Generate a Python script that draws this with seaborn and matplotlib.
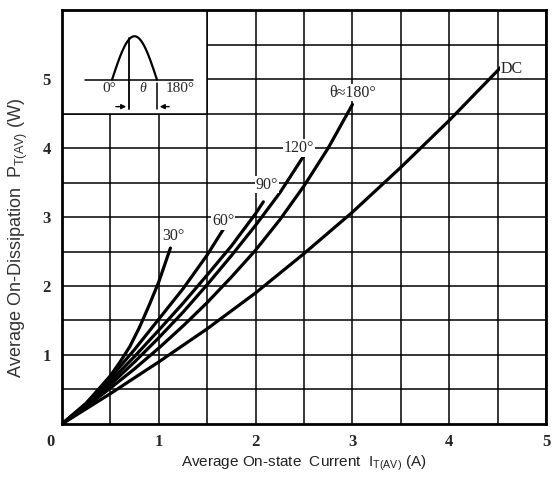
import numpy as np
import pandas as pd
import matplotlib
matplotlib.use('Agg')
import matplotlib.pyplot as plt
import matplotlib.transforms as mtransforms
from matplotlib.patches import Rectangle
import seaborn as sns

# curves (current in A, dissipation in W)
x_30 = [0, 0.25, 0.5, 0.6, 0.7, 0.8, 0.9, 1.0, 1.12]
y_30 = [0, 0.30, 0.70, 0.90, 1.12, 1.40, 1.72, 2.06, 2.55]
x_60 = [0, 0.25, 0.5, 0.75, 1.0, 1.25, 1.5, 1.67]
y_60 = [0, 0.30, 0.67, 1.08, 1.52, 1.96, 2.45, 2.83]
x_90 = [0, 0.25, 0.5, 0.75, 1.0, 1.25, 1.5, 1.75, 2.0, 2.08]
y_90 = [0, 0.28, 0.62, 0.98, 1.36, 1.75, 2.16, 2.58, 3.05, 3.22]
x_120 = [0, 0.25, 0.5, 0.75, 1.0, 1.25, 1.5, 1.75, 2.0, 2.25, 2.49]
y_120 = [0, 0.26, 0.57, 0.90, 1.25, 1.62, 2.02, 2.44, 2.88, 3.35, 3.87]
x_180 = [0, 0.25, 0.5, 0.75, 1.0, 1.25, 1.5, 1.75, 2.0, 2.25, 2.5, 2.75, 3.0]
y_180 = [0, 0.25, 0.52, 0.80, 1.10, 1.42, 1.76, 2.13, 2.52, 2.96, 3.45, 4.00, 4.63]
x_dc = [0, 0.5, 1.0, 1.5, 2.0, 2.5, 3.0, 3.5, 4.0, 4.54]
y_dc = [0, 0.44, 0.90, 1.38, 1.90, 2.47, 3.07, 3.72, 4.40, 5.18]

curve_names = ["30°", "60°", "90°", "120°", "θ≈180°", "DC"]
curve_x = [x_30, x_60, x_90, x_120, x_180, x_dc]
curve_y = [y_30, y_60, y_90, y_120, y_180, y_dc]
label_pos = [(1.04, 2.72), (1.55, 2.94), (2.0, 3.47), (2.29, 4.0), (2.76, 4.8), (4.53, 5.14)]

x_ticks = [0, 1, 2, 3, 4, 5]
y_ticks = [1, 2, 3, 4, 5]

rows = []
for name, xs, ys in zip(curve_names, curve_x, curve_y):
    for a, b in zip(xs, ys):
        rows.append({"curve": name, "I": a, "P": b})
df = pd.DataFrame(rows)

sns.set_style("white")
plt.rcParams['font.family'] = ['Liberation Sans', 'DejaVu Sans']
plt.rcParams['mathtext.fontset'] = 'custom'
plt.rcParams['mathtext.rm'] = 'Liberation Sans'

fig = plt.figure(figsize=(5.57, 4.78), dpi=100)
ax = fig.add_axes([0.1113, 0.113, 0.869, 0.866])

ax.set_xlim(0, 5)
ax.set_ylim(0, 6)
ax.set_xticks(x_ticks)
ax.set_yticks(y_ticks)
ax.set_xticks(np.arange(0.5, 5, 0.5), minor=True)
ax.set_yticks(np.arange(0.5, 6, 0.5), minor=True)
ax.set_axisbelow(True)
ax.grid(which='both', color='black', lw=1.1)
ax.tick_params(which='both', length=0)
ax.tick_params(axis='x', pad=7, labelsize=12)
ax.tick_params(axis='y', pad=8, labelsize=12)
for t in ax.get_xticklabels() + ax.get_yticklabels():
    t.set_fontfamily('Liberation Serif')
    t.set_fontweight('bold')
# the shared "0" sits left of the corner
off = mtransforms.ScaledTranslation(-8.5 / 72, 0, fig.dpi_scale_trans)
lab0 = ax.get_xticklabels()[0]
lab0.set_transform(lab0.get_transform() + off)

for s in ax.spines.values():
    s.set_color('black')
    s.set_linewidth(2)

# blank box for the wave sketch
ax.add_patch(Rectangle((0, 4.5), 1.5, 1.5, facecolor='white', edgecolor='black', lw=1.1, zorder=1))

sns.lineplot(data=df, x="I", y="P", hue="curve", palette=['black'] * 6, legend=False,
             estimator=None, lw=2.3, ax=ax, zorder=3)

for name, (lx, ly) in zip(curve_names, label_pos):
    ax.text(lx, ly, name, family=['Liberation Serif', 'DejaVu Serif'], fontsize=11.5,
            ha='left', va='center', zorder=4,
            bbox=dict(facecolor='white', edgecolor='none', pad=0.5))

# wave sketch
wx = np.linspace(0.517, 0.981, 60)
wy = 4.99 + 0.63 * np.sin(np.pi * (wx - 0.517) / (0.981 - 0.517))
ax.plot(wx, wy, color='black', lw=1.6, zorder=3)
ax.plot([0.238, 1.353], [4.99, 4.99], color='black', lw=1.1, zorder=3)
ax.plot([0.692, 0.692], [5.60, 4.56], color='black', lw=1.3, zorder=3)
ax.plot([0.981, 0.981], [4.94, 4.56], color='black', lw=1.1, zorder=3)
ax.annotate("", xy=(0.692, 4.6), xytext=(0.527, 4.6),
            arrowprops=dict(arrowstyle='-|>', color='black', lw=1, mutation_scale=7), zorder=3)
ax.annotate("", xy=(0.981, 4.6), xytext=(1.136, 4.6),
            arrowprops=dict(arrowstyle='-|>', color='black', lw=1, mutation_scale=7), zorder=3)
ax.text(0.49, 4.86, "0°", family='Liberation Serif', fontsize=11, ha='center', va='center', zorder=4)
ax.text(0.83, 4.86, "θ", family=['Liberation Serif', 'DejaVu Serif'], style='italic', fontsize=10,
        ha='center', va='center', zorder=4)
ax.text(1.07, 4.86, "180°", family='Liberation Serif', fontsize=11, ha='left', va='center', zorder=4)

ax.set_xlabel(r"Average On-state  Current  I$_{\mathrm{T(AV)}}$ (A)", fontsize=11, color='#222222',
              labelpad=3)
ax.set_ylabel(r"Average On-Dissipation  P$_{\mathrm{T(AV)}}$ (W)", fontsize=13, color='#333333')
ax.yaxis.set_label_coords(-0.066, 0.45)

fig.savefig("out.png", dpi=100)
